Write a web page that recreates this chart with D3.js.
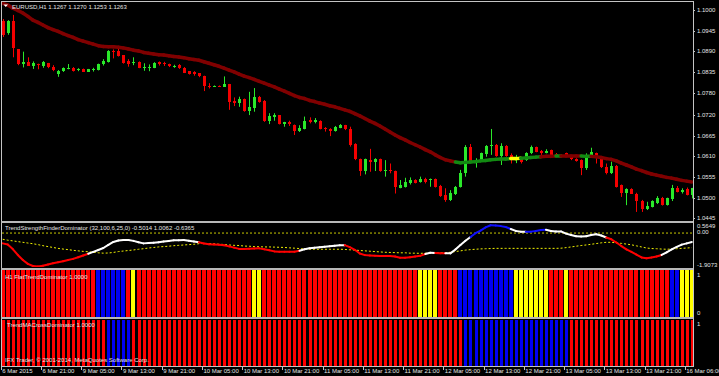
<!DOCTYPE html>
<html>
<head>
<meta charset="utf-8">
<script src="https://cdn.jsdelivr.net/npm/d3@7"></script>
<style>
  html, body { margin: 0; padding: 0; background: #000; }
  svg { display: block; }
  text { font-family: "Liberation Sans", Arial, sans-serif; font-size: 6px; fill: #e6e6e6; }
</style>
</head>
<body>
<svg id="chart"></svg>
<script>
// EURUSD H1 candles, one entry per bar (6 Mar 13:00 .. 16 Mar 07:00)
const open = [1.0971,1.0938,1.0971,1.0895,1.0856,1.0861,1.0852,1.0856,1.0852,1.0858,
  1.0849,1.0829,1.0837,1.0844,1.0846,1.0840,1.0843,1.0836,1.0840,1.0840,
  1.0855,1.0861,1.0892,1.0892,1.0879,1.0864,1.0858,1.0861,1.0846,1.0846,
  1.0846,1.0861,1.0860,1.0856,1.0849,1.0853,1.0846,1.0837,1.0835,1.0831,
  1.0824,1.0798,1.0796,1.0798,1.0796,1.0802,1.0758,1.0751,1.0762,1.0731,
  1.0738,1.0769,1.0758,1.0704,1.0716,1.0719,1.0695,1.0702,1.0694,1.0678,
  1.0683,1.0707,1.0702,1.0704,1.0686,1.0683,1.0678,1.0686,1.0693,1.0683,
  1.0643,1.0602,1.0571,1.0600,1.0596,1.0602,1.0572,1.0574,1.0571,1.0527,
  1.0529,1.0538,1.0547,1.0542,1.0551,1.0546,1.0550,1.0532,1.0507,1.0494,
  1.0510,1.0529,1.0566,1.0636,1.0593,1.0600,1.0616,1.0638,1.0640,1.0612,
  1.0638,1.0614,1.0602,1.0605,1.0600,1.0618,1.0634,1.0624,1.0620,1.0627,
  1.0616,1.0610,1.0618,1.0607,1.0604,1.0600,1.0578,1.0609,1.0618,1.0603,
  1.0582,1.0565,1.0585,1.0534,1.0513,1.0523,1.0511,1.0492,1.0470,1.0476,
  1.0485,1.0500,1.0480,1.0496,1.0525,1.0516,1.0522,1.0507];
const high = [1.0976,1.0973,1.0987,1.0896,1.0889,1.0874,1.0863,1.0857,1.0864,1.0859,
  1.0853,1.0840,1.0847,1.0856,1.0848,1.0845,1.0844,1.0843,1.0846,1.0857,
  1.0869,1.0893,1.0895,1.0898,1.0880,1.0869,1.0874,1.0863,1.0858,1.0855,
  1.0861,1.0863,1.0862,1.0857,1.0854,1.0856,1.0848,1.0837,1.0837,1.0832,
  1.0825,1.0805,1.0799,1.0799,1.0823,1.0803,1.0767,1.0769,1.0764,1.0782,
  1.0792,1.0771,1.0760,1.0725,1.0725,1.0720,1.0702,1.0705,1.0695,1.0693,
  1.0716,1.0714,1.0712,1.0706,1.0688,1.0685,1.0691,1.0696,1.0694,1.0689,
  1.0645,1.0604,1.0604,1.0630,1.0605,1.0604,1.0600,1.0591,1.0572,1.0547,
  1.0553,1.0554,1.0549,1.0556,1.0553,1.0551,1.0551,1.0534,1.0525,1.0520,
  1.0531,1.0574,1.0640,1.0643,1.0605,1.0620,1.0640,1.0683,1.0643,1.0645,
  1.0640,1.0618,1.0614,1.0608,1.0621,1.0639,1.0636,1.0627,1.0629,1.0628,
  1.0619,1.0615,1.0620,1.0609,1.0605,1.0602,1.0618,1.0633,1.0620,1.0604,
  1.0591,1.0596,1.0587,1.0535,1.0525,1.0525,1.0513,1.0494,1.0489,1.0493,
  1.0504,1.0502,1.0500,1.0534,1.0531,1.0525,1.0527,1.0526];
const low = [1.0928,1.0934,1.0874,1.0853,1.0847,1.0851,1.0843,1.0842,1.0846,1.0845,
  1.0837,1.0822,1.0835,1.0842,1.0836,1.0837,1.0835,1.0835,1.0836,1.0839,
  1.0852,1.0860,1.0871,1.0876,1.0857,1.0849,1.0853,1.0845,1.0838,1.0837,
  1.0845,1.0852,1.0851,1.0848,1.0846,1.0843,1.0832,1.0828,1.0825,1.0821,
  1.0784,1.0791,1.0795,1.0795,1.0795,1.0734,1.0744,1.0742,1.0729,1.0720,
  1.0729,1.0753,1.0702,1.0696,1.0705,1.0695,1.0689,1.0691,1.0667,1.0675,
  1.0682,1.0698,1.0698,1.0682,1.0676,1.0664,1.0676,1.0685,1.0680,1.0636,
  1.0600,1.0558,1.0562,1.0569,1.0571,1.0569,1.0556,1.0565,1.0511,1.0525,
  1.0527,1.0535,1.0538,1.0540,1.0538,1.0529,1.0527,1.0502,1.0489,1.0491,
  1.0507,1.0527,1.0556,1.0594,1.0580,1.0598,1.0609,1.0614,1.0609,1.0587,
  1.0609,1.0591,1.0592,1.0591,1.0598,1.0616,1.0621,1.0614,1.0618,1.0612,
  1.0609,1.0608,1.0612,1.0600,1.0596,1.0560,1.0574,1.0607,1.0591,1.0579,
  1.0562,1.0563,1.0527,1.0502,1.0480,1.0510,1.0462,1.0462,1.0467,1.0474,
  1.0483,1.0479,1.0479,1.0491,1.0514,1.0511,1.0506,1.0498];
const close = [1.0933,1.0971,1.0898,1.0856,1.0861,1.0852,1.0858,1.0853,1.0861,1.0847,
  1.0840,1.0838,1.0845,1.0846,1.0837,1.0842,1.0836,1.0842,1.0843,1.0856,
  1.0864,1.0892,1.0889,1.0877,1.0858,1.0856,1.0861,1.0846,1.0848,1.0849,
  1.0860,1.0855,1.0856,1.0850,1.0852,1.0845,1.0833,1.0830,1.0829,1.0823,
  1.0797,1.0796,1.0798,1.0796,1.0804,1.0756,1.0753,1.0762,1.0731,1.0742,
  1.0769,1.0756,1.0704,1.0718,1.0720,1.0696,1.0702,1.0695,1.0678,1.0686,
  1.0705,1.0701,1.0707,1.0683,1.0682,1.0678,1.0688,1.0694,1.0682,1.0640,
  1.0602,1.0571,1.0602,1.0596,1.0602,1.0571,1.0574,1.0572,1.0529,1.0534,
  1.0542,1.0547,1.0540,1.0551,1.0541,1.0549,1.0529,1.0504,1.0494,1.0513,
  1.0529,1.0566,1.0636,1.0596,1.0600,1.0618,1.0638,1.0640,1.0612,1.0638,
  1.0612,1.0605,1.0609,1.0596,1.0618,1.0634,1.0622,1.0618,1.0625,1.0614,
  1.0611,1.0614,1.0614,1.0602,1.0598,1.0578,1.0609,1.0621,1.0605,1.0581,
  1.0565,1.0585,1.0529,1.0513,1.0523,1.0511,1.0492,1.0470,1.0478,1.0491,
  1.0500,1.0480,1.0498,1.0525,1.0516,1.0520,1.0507,1.0525];

// moving average drawn over the candles, and its colour state per bar (r = down, g = up, y = flat)
const maValue = [1.1018,1.1013,1.1005,1.0999,1.0992,1.0983,1.0973,1.0967,1.0960,1.0953,
  1.0948,1.0943,1.0937,1.0932,1.0927,1.0921,1.0917,1.0913,1.0909,1.0905,
  1.0903,1.0902,1.0902,1.0901,1.0899,1.0896,1.0893,1.0891,1.0887,1.0885,
  1.0883,1.0881,1.0880,1.0878,1.0876,1.0875,1.0873,1.0870,1.0868,1.0866,
  1.0862,1.0858,1.0854,1.0850,1.0845,1.0840,1.0835,1.0829,1.0824,1.0820,
  1.0815,1.0810,1.0805,1.0800,1.0795,1.0789,1.0784,1.0778,1.0772,1.0767,
  1.0764,1.0759,1.0756,1.0752,1.0749,1.0745,1.0742,1.0738,1.0734,1.0730,
  1.0724,1.0718,1.0711,1.0704,1.0698,1.0691,1.0683,1.0675,1.0667,1.0660,
  1.0654,1.0647,1.0641,1.0635,1.0628,1.0622,1.0614,1.0607,1.0601,1.0598,
  1.0595,1.0593,1.0594,1.0595,1.0596,1.0598,1.0599,1.0601,1.0602,1.0603,
  1.0603,1.0604,1.0604,1.0605,1.0606,1.0607,1.0608,1.0609,1.0610,1.0610,
  1.0611,1.0611,1.0611,1.0611,1.0611,1.0611,1.0610,1.0610,1.0609,1.0607,
  1.0604,1.0602,1.0598,1.0592,1.0587,1.0582,1.0576,1.0572,1.0567,1.0563,
  1.0560,1.0557,1.0554,1.0552,1.0549,1.0546,1.0544,1.0542];
const maState = "rrrrrrrrrr" + "rrrrrrrrrr" + "rrrrrrrrrr" + "rrrrrrrrrr" + "rrrrrrrrrr" +
  "rrrrrrrrrr" + "rrrrrrrrrr" + "rrrrrrrrrr" + "rrrrrrrrrr" + "rggggggggg" +
  "ggyyggggrr" + "rgrrrrggrr" + "rrrrrrrrrr" + "rrrrrrrr";

// TrendStrengthFinderDominator: main line, signal line, colour state (r / w / b)
const tsMain = [-0.58,-0.64,-0.90,-1.23,-1.51,-1.73,-1.85,-1.88,-1.84,-1.77,
  -1.70,-1.64,-1.58,-1.51,-1.45,-1.36,-1.26,-1.16,-1.06,-0.95,
  -0.84,-0.67,-0.50,-0.42,-0.39,-0.39,-0.44,-0.52,-0.58,-0.56,
  -0.55,-0.52,-0.47,-0.44,-0.41,-0.40,-0.39,-0.43,-0.47,-0.52,
  -0.59,-0.63,-0.64,-0.66,-0.68,-0.75,-0.82,-0.89,-0.90,-0.88,
  -0.87,-0.86,-0.91,-0.97,-1.03,-1.05,-1.05,-1.05,-1.05,-0.99,
  -0.91,-0.85,-0.82,-0.80,-0.77,-0.74,-0.72,-0.69,-0.68,-0.79,
  -0.94,-1.15,-1.24,-1.26,-1.27,-1.29,-1.29,-1.29,-1.32,-1.39,
  -1.39,-1.36,-1.32,-1.28,-1.18,-1.11,-1.12,-1.13,-1.14,-1.14,
  -0.92,-0.67,-0.43,-0.22,-0.01,0.14,0.32,0.44,0.42,0.39,
  0.34,0.23,0.12,0.08,0.08,0.08,0.12,0.17,0.19,0.12,
  0.09,0.09,-0.03,-0.11,-0.18,-0.19,-0.18,-0.11,-0.07,-0.14,
  -0.25,-0.35,-0.53,-0.73,-0.92,-1.06,-1.21,-1.37,-1.42,-1.37,
  -1.32,-1.23,-1.08,-0.92,-0.78,-0.65,-0.58,-0.50];
const tsSignal = [-0.35,-0.40,-0.44,-0.48,-0.52,-0.56,-0.60,-0.65,-0.71,-0.76,
  -0.81,-0.86,-0.90,-0.93,-0.97,-1.00,-1.03,-1.05,-1.08,-1.11,
  -1.13,-1.12,-1.09,-1.04,-1.01,-0.98,-0.95,-0.91,-0.88,-0.84,
  -0.81,-0.78,-0.76,-0.74,-0.71,-0.69,-0.67,-0.65,-0.63,-0.60,
  -0.58,-0.59,-0.60,-0.63,-0.64,-0.67,-0.69,-0.70,-0.73,-0.74,
  -0.76,-0.77,-0.78,-0.78,-0.79,-0.80,-0.81,-0.83,-0.85,-0.87,
  -0.90,-0.91,-0.91,-0.91,-0.91,-0.91,-0.91,-0.91,-0.92,-0.94,
  -0.96,-0.98,-1.00,-1.02,-1.04,-1.06,-1.08,-1.09,-1.10,-1.11,
  -1.11,-1.13,-1.13,-1.14,-1.13,-1.12,-1.11,-1.11,-1.10,-1.08,
  -1.04,-1.00,-0.96,-0.93,-0.91,-0.89,-0.88,-0.87,-0.86,-0.86,
  -0.86,-0.86,-0.86,-0.86,-0.86,-0.86,-0.86,-0.86,-0.86,-0.86,
  -0.86,-0.85,-0.82,-0.78,-0.74,-0.70,-0.67,-0.63,-0.59,-0.55,
  -0.52,-0.52,-0.55,-0.58,-0.62,-0.66,-0.72,-0.78,-0.84,-0.87,
  -0.88,-0.90,-0.91,-0.90,-0.88,-0.86,-0.84,-0.82];
const tsState = "rrrrrrrrrr" + "rrrrrrrrww" + "wwwwwwwwww" + "wwwwwwwwww" + "rrrrrrrrrr" +
  "rrrrrrrrrr" + "wwwwwwwwwr" + "rrrrrrrrrr" + "rrrrrwwrrw" + "wwwwbbbbbb" +
  "bbwwwbbbbw" + "wwwwwwwwww" + "wrrrrrrrrr" + "rrwwwwww";
const tsLevels = [0];
const tsRange = [-1.9073, 0.5649];

// FlatTrendDominator and TrendMACrossDominator histogram states (r / b / y)
const flatState = "rrrrrrrrrr" + "rrrrrrrrrb" + "bbbbbryrrr" + "rrrrrrrrrr" + "rrrrrrrrrr" +
  "yyrrrrrrrr" + "rrrrrrrrrr" + "rrrrrrrrrr" + "rrryyyyrrr" + "rbbbbbbbbb" +
  "bbyyyyyyyr" + "rryrrrrrrr" + "rrrrrrrrrr" + "rrrbbyyy";
const crossState = "rrrrrrrrrr" + "rrrrrrrrrr" + "rbbbbbrrrr" + "rrrrrrrrrr" + "rrrrrrrrrr" +
  "rrrrrrrrrr" + "rrrrrrrrrr" + "rrrrrrrrrr" + "rrrrrrrrrr" + "rrbbbbbbbb" +
  "bbbbbbbbbb" + "bbbrrrrrrr" + "rrrrrrrrrr" + "rrrrrrrr";

const priceTicks = [1.1000, 1.0945, 1.0890, 1.0835, 1.0780, 1.0720, 1.0665, 1.0610, 1.0555, 1.0500, 1.0445];
const timeBars = [0, 8, 16, 24, 32, 40, 48, 56, 64, 72, 80, 88, 96, 104, 112, 120, 128, 136];
const timeLabels = ["6 Mar 2015", "6 Mar 21:00", "9 Mar 05:00", "9 Mar 13:00", "9 Mar 21:00",
  "10 Mar 05:00", "10 Mar 13:00", "10 Mar 21:00", "11 Mar 05:00", "11 Mar 13:00", "11 Mar 21:00",
  "12 Mar 05:00", "12 Mar 13:00", "12 Mar 21:00", "13 Mar 05:00", "13 Mar 13:00", "13 Mar 21:00",
  "16 Mar 06:00"];

const W = 719, H = 376;
const AXIS_X = 693;
const N = open.length;
const bars = d3.range(N);

const BULL = "#2ae82a", BEAR = "#f40000";
const maColor = {r: "#800000", g: "#128a12", y: "#ffff00"};
const tsColor = {r: "#ff0000", w: "#ffffff", b: "#1010ff"};
const histColor = {r: "#ff0000", b: "#0000f4", y: "#ffff00"};

const svg = d3.select("#chart").attr("width", W).attr("height", H);
svg.append("rect").attr("width", W).attr("height", H).attr("fill", "#000");

const x = d3.scaleLinear().domain([0, N - 1]).range([2.7, 691.8]);
const yMain = d3.scaleLinear().domain([1.0445, 1.1000]).range([218.3, 10]);
const yTs = d3.scaleLinear().domain(tsRange).range([267, 223]);
const yFlat = d3.scaleLinear().domain([0, 1]).range([317, 270]);
const yCross = d3.scaleLinear().domain([0, 1]).range([366, 320]);

const defs = svg.append("defs");
function clip(id, y0, y1) {
    defs.append("clipPath").attr("id", id)
        .append("rect").attr("x", 2).attr("y", y0).attr("width", AXIS_X - 2).attr("height", y1 - y0);
    return svg.append("g").attr("clip-path", `url(#${id})`);
}

// ---- main window: candles + MA
const gMain = clip("cMain", 2, 221);
const candle = gMain.append("g").selectAll("g").data(bars).enter().append("g");
candle.append("line")
    .attr("x1", i => Math.round(x(i)) + 0.5).attr("x2", i => Math.round(x(i)) + 0.5)
    .attr("y1", i => yMain(high[i])).attr("y2", i => yMain(low[i]))
    .attr("stroke", i => close[i] >= open[i] ? BULL : BEAR).attr("stroke-width", 1);
candle.append("rect")
    .attr("x", i => Math.round(x(i)) - 1).attr("width", 3)
    .attr("y", i => yMain(Math.max(open[i], close[i])))
    .attr("height", i => Math.max(1, Math.abs(yMain(open[i]) - yMain(close[i]))))
    .attr("fill", i => close[i] >= open[i] ? BULL : BEAR)
    .attr("shape-rendering", "crispEdges");

gMain.append("g").selectAll("line").data(bars.slice(1)).enter().append("line")
    .attr("x1", i => x(i - 1)).attr("y1", i => yMain(maValue[i - 1]))
    .attr("x2", i => x(i)).attr("y2", i => yMain(maValue[i]))
    .attr("stroke", i => maColor[maState[i]])
    .attr("stroke-width", 3.5).attr("stroke-linecap", "round");

// ---- trend strength window
const gTs = clip("cTs", 223, 267);
gTs.selectAll("line.level").data(tsLevels).enter().append("line").attr("class", "level")
    .attr("x1", 2).attr("x2", AXIS_X).attr("y1", d => yTs(d)).attr("y2", d => yTs(d))
    .attr("stroke", "#c8c800").attr("stroke-dasharray", "2,2");
gTs.append("path")
    .datum(bars)
    .attr("d", d3.line().x(i => x(i)).y(i => yTs(tsSignal[i])))
    .attr("fill", "none").attr("stroke", "#f0f000").attr("stroke-width", 1)
    .attr("stroke-dasharray", "2,2");
gTs.append("g").selectAll("line").data(bars.slice(1)).enter().append("line")
    .attr("x1", i => x(i - 1)).attr("y1", i => yTs(tsMain[i - 1]))
    .attr("x2", i => x(i)).attr("y2", i => yTs(tsMain[i]))
    .attr("stroke", i => tsColor[tsState[i]])
    .attr("stroke-width", 2).attr("stroke-linecap", "round");

// ---- histograms
const gFlat = clip("cFlat", 270, 317);
gFlat.selectAll("rect").data(bars).enter().append("rect")
    .attr("x", i => Math.round(x(i)) - 2).attr("width", 4)
    .attr("y", yFlat(1)).attr("height", yFlat(0) - yFlat(1))
    .attr("fill", i => histColor[flatState[i]])
    .attr("shape-rendering", "crispEdges");

const gCross = clip("cCross", 320, 366);
gCross.selectAll("rect").data(bars).enter().append("rect")
    .attr("x", i => Math.round(x(i)) - 1).attr("width", 3)
    .attr("y", yCross(1)).attr("height", yCross(0) - yCross(1))
    .attr("fill", i => histColor[crossState[i]])
    .attr("shape-rendering", "crispEdges");

// ---- frames and separators
const frame = svg.append("g").attr("shape-rendering", "crispEdges");
frame.append("rect").attr("x", 1.5).attr("y", 1.5).attr("width", AXIS_X - 1.5).attr("height", 365)
    .attr("fill", "none").attr("stroke", "#c4c4c4");
[221, 268, 317].forEach(y => {
    frame.append("rect").attr("x", 1).attr("y", y).attr("width", AXIS_X - 1).attr("height", 2)
        .attr("fill", "#b8b8b8");
});

// ---- price axis
const axis = svg.append("g");
axis.selectAll("text.p").data(priceTicks).enter().append("text")
    .attr("x", 697).attr("y", d => yMain(d)).attr("dy", "0.35em")
    .text(d => d.toFixed(4));
axis.selectAll("line.p").data(priceTicks).enter().append("line")
    .attr("x1", AXIS_X).attr("x2", AXIS_X + 2).attr("y1", d => Math.round(yMain(d)) + 0.5)
    .attr("y2", d => Math.round(yMain(d)) + 0.5).attr("stroke", "#c4c4c4");

axis.append("text").attr("x", 697).attr("y", yTs(tsRange[1]) + 3).attr("dy", "0.35em").text(tsRange[1].toFixed(4));
axis.selectAll("text.l").data(tsLevels).enter().append("text")
    .attr("x", 697).attr("y", d => yTs(d) - 1).attr("dy", "0.35em").text(d => d.toFixed(2));
axis.append("text").attr("x", 697).attr("y", yTs(tsRange[0]) - 2).attr("dy", "0.35em").text(tsRange[0].toFixed(4));
axis.append("text").attr("x", 697).attr("y", yFlat(1) + 5).attr("dy", "0.35em").text("1");
axis.append("text").attr("x", 697).attr("y", yFlat(0) - 4).attr("dy", "0.35em").text("0");
axis.append("text").attr("x", 697).attr("y", yCross(1) + 4).attr("dy", "0.35em").text("1");

// ---- time axis (last label runs off the right edge, as in the terminal)
const timeAxis = svg.append("g");
timeAxis.selectAll("line").data(timeBars).enter().append("line")
    .attr("x1", i => Math.round(x(i)) - 1.5).attr("x2", i => Math.round(x(i)) - 1.5)
    .attr("y1", 367).attr("y2", 370).attr("stroke", "#c4c4c4");
timeAxis.selectAll("text").data(timeBars).enter().append("text")
    .attr("x", i => x(i) - 0.5).attr("y", 371).attr("dy", "0.35em")
    .text((i, k) => timeLabels[k]);

// ---- window titles
svg.append("path").attr("d", "M3.5,4.5 L8,4.5 L5.75,7 Z").attr("fill", "#fff");
svg.append("text").attr("x", 12).attr("y", 6.5).attr("dy", "0.35em")
    .text("EURUSD,H1  1.1267 1.1270 1.1253 1.1263");
svg.append("text").attr("x", 5).attr("y", 228).attr("dy", "0.35em")
    .text("TrendStrengthFinderDominator (32,100,6,25,0) -0.5014 1.0062 -0.6365");
svg.append("text").attr("x", 5).attr("y", 277).attr("dy", "0.35em")
    .text("H1  FlatTrendDominator 1.0000");
svg.append("text").attr("x", 7).attr("y", 325).attr("dy", "0.35em")
    .text("TrendMACrossDominator 1.0000");
svg.append("text").attr("x", 5).attr("y", 359.5).attr("dy", "0.35em")
    .text("IFX Trader, \u00a9 2001-2014, MetaQuotes Software Corp.");
</script>
</body>
</html>
